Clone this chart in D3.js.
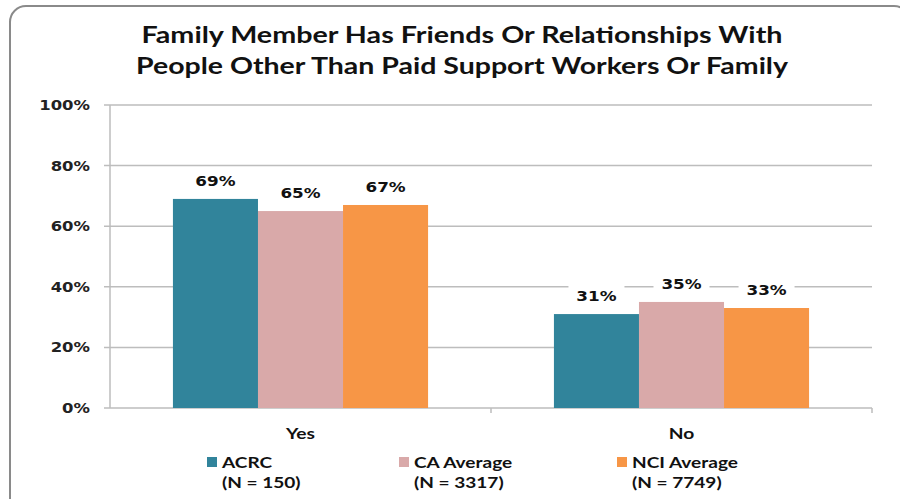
<!DOCTYPE html>
<html><head><meta charset="utf-8">
<script src="https://cdn.jsdelivr.net/npm/d3@7"></script>
<style>body{margin:0;background:#fff}svg{display:block}</style>
</head><body>
<svg id="c" width="900" height="499"></svg>
<script>
const categories = ["Yes", "No"];
const seriesNames = ["ACRC", "CA Average", "NCI Average"];
const seriesN = ["(N = 150)", "(N = 3317)", "(N = 7749)"];
const acrc = [69, 31];
const caAvg = [65, 35];
const nciAvg = [67, 33];
const yTicks = [0, 20, 40, 60, 80, 100];
const colors = ["#31849B", "#D9A9A9", "#F79646"];
const seriesValues = [acrc, caAvg, nciAvg];

(function(){
const SX = 1.2;
const svg = d3.select("#c");
svg.append("rect").attr("x", 10).attr("y", 6).attr("width", 900).attr("height", 520)
  .attr("rx", 16).attr("fill", "#fff").attr("stroke", "#8a8a8a").attr("stroke-width", 2);

const pl = 110, pr = 872, pt = 105, pb = 408;
const x0 = d3.scaleBand().domain(categories).range([pl, pr]);
const x1 = d3.scaleBand().domain(seriesNames).range([0, x0.bandwidth()]).paddingInner(0).paddingOuter(0.74);
const y = d3.scaleLinear().domain([0, 100]).range([pb, pt]);

const g = svg.append("g");
g.selectAll("line.grid").data(yTicks).join("line")
  .attr("x1", pl - 6).attr("x2", pr).attr("y1", d => y(d)).attr("y2", d => y(d))
  .attr("stroke", "#bdbdbd").attr("stroke-width", 1.5);
g.append("line").attr("x1", pl).attr("x2", pl).attr("y1", pt).attr("y2", pb)
  .attr("stroke", "#bdbdbd").attr("stroke-width", 1.5);
g.selectAll("line.ct").data([pl + x0.bandwidth(), pr]).join("line")
  .attr("x1", d => d).attr("x2", d => d).attr("y1", pb).attr("y2", pb + 5)
  .attr("stroke", "#bdbdbd").attr("stroke-width", 1.5);

g.selectAll("text.yt").data(yTicks).join("text")
  .attr("transform", d => `translate(90,${y(d) + 5}) scale(${SX},1)`).attr("text-anchor", "end")
  .attr("font-family", "DejaVu Sans").attr("font-weight", "bold").attr("font-size", 13.7)
  .attr("fill", "#222").text(d => d + "%");

const groups = svg.append("g").selectAll("g").data(categories).join("g")
  .attr("transform", d => `translate(${x0(d)},0)`);
groups.each(function(c, ci) {
  const gg = d3.select(this);
  const data = seriesNames.map((s, si) => ({s, si, v: seriesValues[si][ci]}));
  gg.selectAll("rect.bar").data(data).join("rect")
    .attr("x", d => x1(d.s)).attr("width", x1.bandwidth())
    .attr("y", d => y(d.v)).attr("height", d => y(0) - y(d.v))
    .attr("fill", d => colors[d.si]);
  gg.selectAll("rect.lb").data(data).join("rect")
    .attr("x", d => x1(d.s) + x1.bandwidth() / 2 - 28).attr("width", 56)
    .attr("y", d => y(d.v) - 30).attr("height", 22).attr("fill", "#fff");
  gg.selectAll("text.lbl").data(data).join("text")
    .attr("transform", d => `translate(${x1(d.s) + x1.bandwidth() / 2},${y(d.v) - 13}) scale(${SX},1)`)
    .attr("text-anchor", "middle")
    .attr("font-family", "DejaVu Sans").attr("font-weight", "bold").attr("font-size", 14)
    .attr("fill", "#111").text(d => d.v + "%");
});

svg.selectAll("text.cat").data(categories).join("text")
  .attr("transform", d => `translate(${x0(d) + x0.bandwidth() / 2},439) scale(${SX},1)`).attr("text-anchor", "middle")
  .attr("font-family", "Lato").attr("font-weight", "bold").attr("font-size", 16)
  .attr("fill", "#111").text(d => d);

const title = ["Family Member Has Friends Or Relationships With", "People Other Than Paid Support Workers Or Family"];
const titleW = [641, 652];
svg.selectAll("text.title").data(title).join("text")
  .attr("x", 462).attr("y", (d, i) => 43 + i * 31).attr("text-anchor", "middle")
  .attr("textLength", (d, i) => titleW[i]).attr("lengthAdjust", "spacingAndGlyphs")
  .attr("font-family", "Lato").attr("font-weight", "bold").attr("font-size", 23)
  .attr("fill", "#111").text(d => d);

const legX = [207, 399, 617];
const leg = svg.selectAll("g.leg").data(seriesNames).join("g")
  .attr("transform", (d, i) => `translate(${legX[i]},0)`);
leg.append("rect").attr("x", 0).attr("y", 457).attr("width", 10).attr("height", 10)
  .attr("fill", (d, i) => colors[i]);
leg.append("text").attr("transform", `translate(15,467.5) scale(1.23,1)`)
  .attr("font-family", "Lato").attr("font-weight", "bold").attr("font-size", 15.5)
  .attr("fill", "#111").text(d => d);
leg.append("text").attr("transform", `translate(15,488) scale(1.23,1)`)
  .attr("font-family", "Lato").attr("font-weight", "bold").attr("font-size", 15.5)
  .attr("fill", "#111").text((d, i) => seriesN[i]);
})();
</script>
</body></html>
